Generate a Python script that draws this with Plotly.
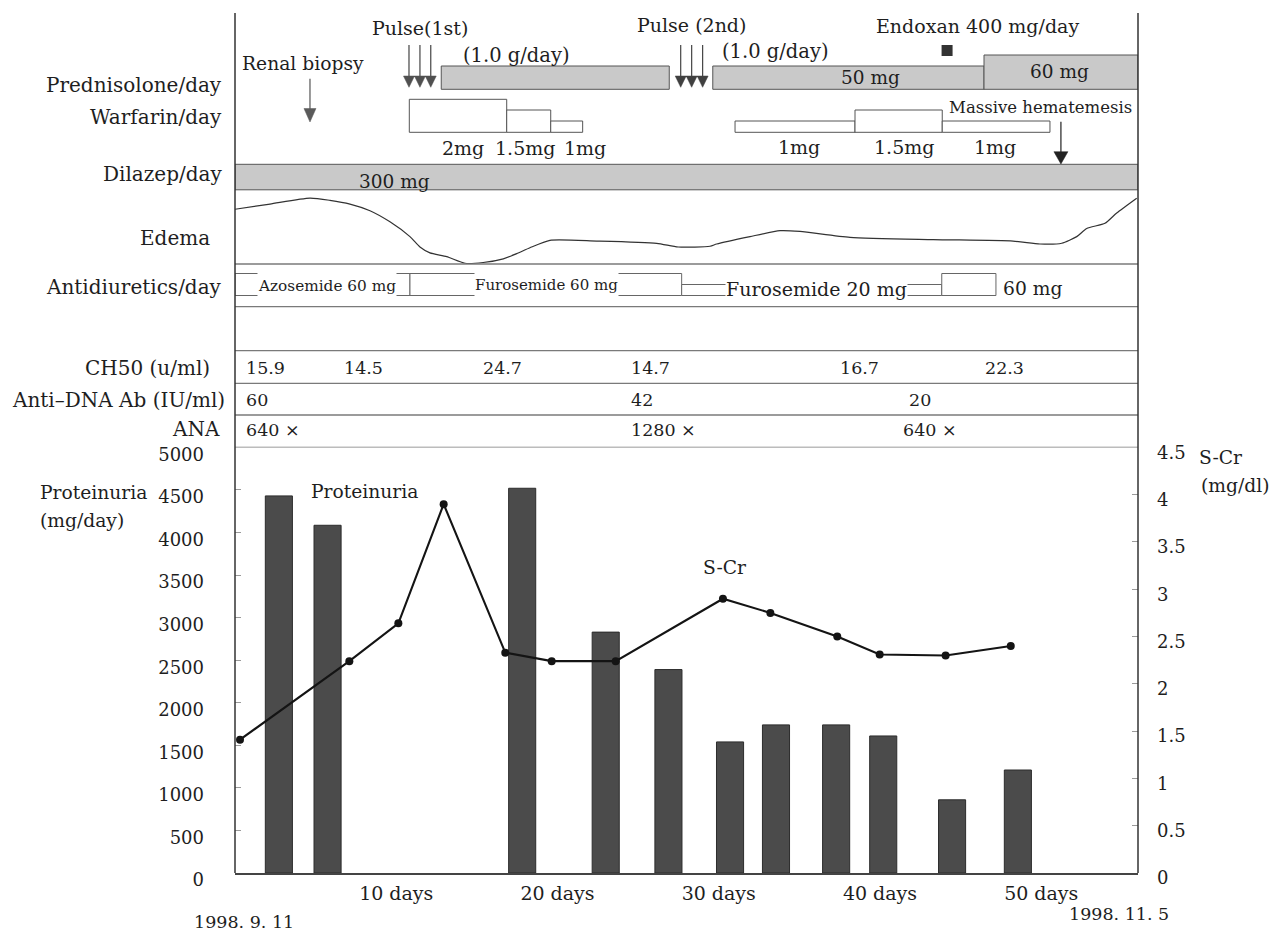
import plotly.graph_objects as go

# ------------------------------ data ------------------------------
# bottom chart
PROT_DAY = [2.72, 5.74, 17.81, 22.99, 26.88, 30.70, 33.55, 37.28, 40.20, 44.47, 48.55]
PROT_MG = [4430, 4085, 4520, 2830, 2390, 1540, 1740, 1740, 1610, 860, 1210]

SCR_DAY = [0.31, 7.09, 10.13, 12.94, 16.76, 19.64, 23.61, 30.26, 33.20, 37.35, 39.98, 44.07, 48.11]
SCR_VAL = [1.41, 2.24, 2.64, 3.90, 2.33, 2.24, 2.24, 2.90, 2.75, 2.50, 2.31, 2.30, 2.40]

DAY_TICKS = [10, 20, 30, 40, 50]
DAY_TICK_TEXT = ["10 days", "20 days", "30 days", "40 days", "50 days"]
PROT_TICKS = [0, 500, 1000, 1500, 2000, 2500, 3000, 3500, 4000, 4500, 5000]
SCR_TICKS = [0, 0.5, 1, 1.5, 2, 2.5, 3, 3.5, 4, 4.5]
SCR_TICK_TEXT = ["0", "0.5", "1", "1.5", "2", "2.5", "3", "3.5", "4", "4.5"]
DATE_START = "1998. 9. 11"
DATE_END = "1998. 11. 5"
DAY_MAX = 56

# treatment timeline (days from 1998.9.11)
PRED_START = [12.79, 29.63, 46.45]
PRED_END = [26.93, 46.45, 56.0]
PRED_DOSE = [50, 50, 60]
PRED_TEXT = ["", "50 mg", "60 mg"]

PULSE1_DAYS = [10.79, 11.47, 12.14]
PULSE2_DAYS = [27.64, 28.32, 29.00]
BIOPSY_DAY = [4.65]
HEMATEMESIS_DAY = [51.22]
ENDOXAN_DAY = [44.16]

WARF_START = [10.81, 16.85, 19.58, 31.01, 38.45, 43.86]
WARF_END = [16.85, 19.58, 21.56, 38.45, 43.86, 50.54]
WARF_DOSE = [2, 1.5, 1, 1, 1.5, 1]
WARF_TEXT = ["2mg", "1.5mg", "1mg", "1mg", "1.5mg", "1mg"]

DIL_START = [0]
DIL_END = [56]
DIL_TEXT = ["300 mg"]

DIUR_START = [0, 10.85, 27.70, 43.83]
DIUR_END = [10.85, 27.70, 43.83, 47.19]
DIUR_DOSE = [60, 60, 20, 60]
DIUR_TEXT = ["Azosemide 60 mg", "Furosemide 60 mg", "Furosemide 20 mg", "60 mg"]

EDEMA_DAY = [0, 2.17, 4.65, 5.89, 7.13, 8.37, 9.61, 10.85, 11.47, 12.09, 13.13, 14.26,
             15.39, 16.64, 17.47, 18.29, 19.53, 22.43, 26.15, 27.49, 29.46, 29.87,
             31.94, 33.80, 35.04, 38.14, 43.29, 48.25, 49.92, 51.27, 52.20, 52.82,
             53.95, 54.68, 55.92]
EDEMA_LEVEL = [0.74, 0.81, 0.89, 0.86, 0.81, 0.72, 0.57, 0.37, 0.23, 0.15, 0.10, 0.01,
               0.02, 0.07, 0.14, 0.22, 0.32, 0.31, 0.28, 0.23, 0.24, 0.27,
               0.37, 0.45, 0.44, 0.36, 0.33, 0.31, 0.27, 0.28, 0.37, 0.48,
               0.55, 0.69, 0.89]

CH50_DAY = [0.56, 6.64, 15.24, 24.45, 37.42, 46.39]
CH50_VAL = ["15.9", "14.5", "24.7", "14.7", "16.7", "22.3"]
DNA_DAY = [0.56, 24.45, 41.67]
DNA_VAL = ["60", "42", "20"]
ANA_DAY = [0.56, 24.45, 41.30]
ANA_VAL = ["640 ×", "1280 ×", "640 ×"]

# ------------------------------ layout geometry (style) ------------------------------
# page coordinates: the figure sits 8 px inside the page (default body margin)
OFF = 8
PAGE_W, PAGE_H = 1279, 933
PL, PR, PT, PB = 235, 1138, 13, 873          # plot area in page pixels
W, H = PAGE_W - OFF, PAGE_H - OFF
ML, MT = PL - OFF, PT - OFF
MR, MB = W - (PR - OFF), H - (PB - OFF)
PW, PH = PR - PL, PB - PT
PXDAY = PW / DAY_MAX
SPLIT = 447.4                       # page row where bottom chart begins
D = (PB - SPLIT) / PH               # bottom-chart domain top


def pxx(px):
    return (px - PL) / PW


def pyy(py):
    return (PB - py) / PH


FONT = "DejaVu Serif"
INK = "#1e1e1e"
GRAY_FILL = "#c9c9c9"
EDGE = "#555555"

PRED_BOTTOM = 89.3
PRED_H = {50: 23.3, 60: 34.3}
WARF_BOTTOM = 132.3
WARF_H = {2: 33.0, 1.5: 22.3, 1: 11.3}
DIL_TOP, DIL_BOTTOM = 164.3, 189.8
EDEMA_TOP, EDEMA_BOTTOM = 190.0, 264.0
DIUR_BOTTOM = 295.5
DIUR_H = {60: 22.0, 20: 11.0}
SEPARATORS = [264.0, 306.7, 350.7, 383.3, 415.0, 447.4]

fig = go.Figure()

# ---------------- bottom chart ----------------
fig.add_trace(go.Bar(x=PROT_DAY, y=PROT_MG, width=1.68, xaxis="x", yaxis="y",
                     marker=dict(color="#4b4b4b", line=dict(color="#2c2c2c", width=1)),
                     hoverinfo="x+y"))
fig.add_trace(go.Scatter(x=SCR_DAY, y=SCR_VAL, xaxis="x", yaxis="y2", mode="lines+markers",
                         line=dict(color="#141414", width=2.1),
                         marker=dict(size=8, color="#141414")))


# ---------------- upper timeline panel ----------------
def hbars(starts, ends, bottoms, heights, fill, edge, width=1.0):
    fig.add_trace(go.Bar(
        orientation="h", xaxis="x", yaxis="y3",
        base=starts, x=[e - s for s, e in zip(starts, ends)],
        y=[b - h / 2 for b, h in zip(bottoms, heights)], width=heights,
        marker=dict(color=fill, line=dict(color=edge, width=width)),
        hoverinfo="skip"))


hbars(PRED_START, PRED_END, [PRED_BOTTOM] * len(PRED_START),
      [PRED_H[d] for d in PRED_DOSE], GRAY_FILL, EDGE)
hbars(WARF_START, WARF_END, [WARF_BOTTOM] * len(WARF_START),
      [WARF_H[d] for d in WARF_DOSE], "white", EDGE)
hbars(DIL_START, DIL_END, [DIL_BOTTOM], [DIL_BOTTOM - DIL_TOP], GRAY_FILL, EDGE)
hbars(DIUR_START, DIUR_END, [DIUR_BOTTOM] * len(DIUR_START),
      [DIUR_H[d] for d in DIUR_DOSE], "white", "#666666")

# edema curve
fig.add_trace(go.Scatter(
    x=EDEMA_DAY,
    y=[EDEMA_BOTTOM - (EDEMA_BOTTOM - EDEMA_TOP) * v for v in EDEMA_LEVEL],
    xaxis="x", yaxis="y3", mode="lines",
    line=dict(color="#333333", width=1.2, shape="spline", smoothing=0.6),
    hoverinfo="skip"))


# arrows: shafts + triangular heads
def arrows(days, y_top, y_head, y_tip, half_px, shaft_color, head_color):
    hw = half_px / PXDAY
    sx, sy, tx, ty = [], [], [], []
    for d in days:
        sx += [d, d, None]
        sy += [y_top, y_head + 1, None]
        tx += [d - hw, d + hw, d, d - hw, None]
        ty += [y_head, y_head, y_tip, y_head, None]
    fig.add_trace(go.Scatter(x=sx, y=sy, xaxis="x", yaxis="y3", mode="lines",
                             line=dict(color=shaft_color, width=1.2), hoverinfo="skip"))
    fig.add_trace(go.Scatter(x=tx, y=ty, xaxis="x", yaxis="y3", mode="lines",
                             fill="toself", fillcolor=head_color,
                             line=dict(color=head_color, width=0.5), hoverinfo="skip"))


arrows(PULSE1_DAYS, 45, 76, 87.3, 5.5, "#444444", "#505050")
arrows(PULSE2_DAYS, 45, 76, 87.3, 5.5, "#444444", "#404040")
arrows(BIOPSY_DAY, 78.7, 108.5, 122, 6, "#555555", "#5a5a5a")
arrows(HEMATEMESIS_DAY, 121.7, 151.7, 164, 7, "#222222", "#222222")

# Endoxan marker
fig.add_trace(go.Scatter(x=ENDOXAN_DAY, y=[50.5], xaxis="x", yaxis="y3", mode="markers",
                         marker=dict(symbol="square", size=11, color="#333333"),
                         hoverinfo="skip"))

# ---------------- shapes: frame + row separators ----------------
shapes = []
for yv in SEPARATORS:
    shapes.append(dict(type="line", xref="paper", yref="y3", x0=0, x1=1, y0=yv, y1=yv,
                       line=dict(color="#7a7a7a", width=1.3)))
for xv in (0, 1):
    shapes.append(dict(type="line", xref="paper", yref="paper", x0=xv, x1=xv, y0=0, y1=1,
                       line=dict(color="#333333", width=1.5)))

# ---------------- annotations ----------------
ann = []


def txt(text, x, y, size=18, xref="x", yref="y3", xanchor="center", **kw):
    ann.append(dict(text=text, x=x, y=y, xref=xref, yref=yref, xanchor=xanchor,
                    yanchor="middle", showarrow=False,
                    font=dict(family=FONT, size=size, color=INK), **kw))


# row labels on the left (page-pixel placed)
ROW_LABELS = [("Prednisolone/day", 223.7, 85), ("Warfarin/day", 223.7, 117),
              ("Dilazep/day", 223.7, 174), ("Edema", 212, 238.5),
              ("Antidiuretics/day", 223.7, 287), ("CH50 (u/ml)", 212, 368.3),
              ("Anti–DNA Ab (IU/ml)", 226.5, 400), ("ANA", 222.4, 429.5)]
for t, rx, ry in ROW_LABELS:
    txt(t, pxx(rx), pyy(ry), size=20, xref="paper", yref="paper", xanchor="right")

# timeline texts
txt("Renal biopsy", 4.19, 63.3, size=18.7)
txt("Pulse(1st)", 11.47, 28.3, size=19)
txt("(1.0 g/day)", 17.43, 55, size=19.5)
txt("Pulse (2nd)", 28.34, 25, size=19)
txt("(1.0 g/day)", 33.49, 51.7, size=19.5)
txt("Endoxan 400 mg/day", 46.02, 26, size=19)
txt("Massive hematemesis", 49.98, 107.3, size=16.5)
PRED_TEXT_POS = [(None, None), (39.44, 77.3), (51.14, 71.7)]
for t, (px_, py_) in zip(PRED_TEXT, PRED_TEXT_POS):
    if t:
        txt(t, px_, py_, size=18.5)
WARF_TEXT_POS = [(14.11, 148.3), (17.98, 148.3), (21.71, 148.3),
                 (34.96, 146.7), (41.46, 146.7), (47.13, 146.7)]
for t, (px_, py_) in zip(WARF_TEXT, WARF_TEXT_POS):
    txt(t, px_, py_, size=19)
txt(DIL_TEXT[0], 9.9, 181, size=18.5)

DIUR_TEXT_POS = [(5.68, 285, 15.3, True), (19.33, 284, 15, True),
                 (36.08, 288.3, 19, True), (49.44, 288.3, 18.7, False)]
for t, (px_, py_, sz, bg) in zip(DIUR_TEXT, DIUR_TEXT_POS):
    if bg:
        txt(t, px_, py_, size=sz, bgcolor="white", height=27, borderpad=0)
    else:
        txt(t, px_, py_, size=sz)

# lab rows
for days, vals, yrow in ((CH50_DAY, CH50_VAL, 368.3), (DNA_DAY, DNA_VAL, 400),
                         (ANA_DAY, ANA_VAL, 430)):
    for d, v in zip(days, vals):
        txt(v, d, yrow, size=17.5, xanchor="left")

# bottom chart labels
txt("Proteinuria", 8.0, 4480, size=18.7, yref="y")
txt("S-Cr", 30.33, 3588, size=18.7, yref="y")
txt("Proteinuria", pxx(38), pyy(492), size=18.7, xref="paper", yref="paper", xanchor="left")
txt("(mg/day)", pxx(38), pyy(520), size=18.7, xref="paper", yref="paper", xanchor="left")
txt("S-Cr", pxx(1197), pyy(457), size=18.7, xref="paper", yref="paper", xanchor="left")
txt("(mg/dl)", pxx(1199), pyy(485), size=18.7, xref="paper", yref="paper", xanchor="left")
txt(DATE_START, pxx(192), pyy(922), size=17.5, xref="paper", yref="paper", xanchor="left")
txt(DATE_END, pxx(1067), pyy(914), size=17.5, xref="paper", yref="paper", xanchor="left")

fig.update_layout(
    width=W, height=H,
    margin=dict(l=ML, r=MR, t=MT, b=MB, autoexpand=False),
    paper_bgcolor="white", plot_bgcolor="white",
    showlegend=False, barmode="overlay",
    font=dict(family=FONT, size=18, color=INK),
    xaxis=dict(domain=[0, 1], range=[0, DAY_MAX], anchor="y",
               tickvals=DAY_TICKS, ticktext=DAY_TICK_TEXT, ticks="",
               showline=True, linecolor="#444444", linewidth=1.5,
               showgrid=False, zeroline=False, ticklabelstandoff=2,
               tickfont=dict(family=FONT, size=19, color=INK)),
    yaxis=dict(domain=[0, D], range=[0, 5000], anchor="x",
               tickvals=PROT_TICKS, ticks="inside", ticklen=6, tickcolor="#9a9a9a",
               showline=False, showgrid=False, zeroline=False,
               ticklabelstandoff=30, ticklabelshift=7,
               tickfont=dict(family=FONT, size=18, color=INK)),
    yaxis2=dict(overlaying="y", side="right", range=[0, 4.5], anchor="x",
                tickvals=SCR_TICKS, ticktext=SCR_TICK_TEXT,
                ticks="inside", ticklen=6, tickcolor="#9a9a9a",
                showline=False, showgrid=False, zeroline=False,
                ticklabelstandoff=18, ticklabelshift=5,
                tickfont=dict(family=FONT, size=18, color=INK)),
    yaxis3=dict(domain=[D, 1], range=[SPLIT, PT], anchor="x", visible=False,
                showgrid=False, zeroline=False),
    shapes=shapes, annotations=ann,
)

fig.write_html("out.html")
